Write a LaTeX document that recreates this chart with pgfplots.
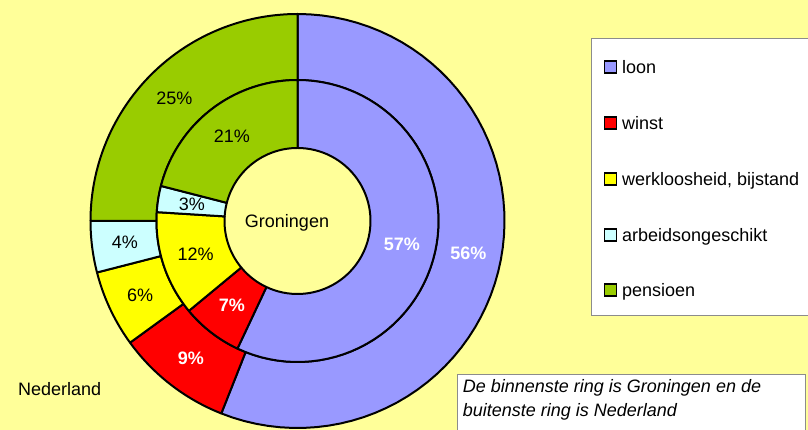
\documentclass[border=0pt]{standalone}
\usepackage{pgfplots}
\usepackage{pgfplotstable}
\pgfplotsset{compat=1.18}
\usepackage{fontspec}
\setmainfont{Liberation Sans}

\definecolor{bg}{HTML}{FFFF99}
\definecolor{c0}{HTML}{9999FF}
\definecolor{c1}{HTML}{FF0000}
\definecolor{c2}{HTML}{FFFF00}
\definecolor{c3}{HTML}{CCFFFF}
\definecolor{c4}{HTML}{99CC00}
\definecolor{boxgray}{HTML}{8C8C8C}

% share of each income source (percent): Nederland (outer ring), Groningen (inner ring)
\pgfplotstableread{
cat       ned gro
loon      56  57
winst     9   7
werkloos  6   12
arbeid    4   3
pensioen  25  21
}\datatable

\newcommand\cx{297.5}
\newcommand\cy{209}
% #1 start angle, #2 end angle, #3 inner radius, #4 outer radius, #5 colour
\newcommand\sectorplot[5]{%
  \addplot[fill=#5, draw=black, line width=2pt, line join=round,
    domain=0:4, samples=241, variable=\t, forget plot,
    declare function={
      secang(\s)=(\s<1)*((#1)+((#2)-(#1))*\s) + (\s>=1)*(\s<2)*(#2)
             + (\s>=2)*(\s<3)*((#2)+((#1)-(#2))*(\s-2)) + (\s>=3)*(#1);
      secrad(\s)=(\s<1)*(#4) + (\s>=1)*(\s<2)*((#4)+((#3)-(#4))*(\s-1))
             + (\s>=2)*(\s<3)*(#3) + (\s>=3)*((#3)+((#4)-(#3))*(\s-3));
    }]
  ({\cx+secrad(\t)*cos(secang(\t))},{\cy+secrad(\t)*sin(secang(\t))});
}

\tikzset{
  lbl0/.style={text=white, font=\fontsize{18}{21}\selectfont\bfseries},
  lbl1/.style={text=white, font=\fontsize{18}{21}\selectfont\bfseries},
  lbl2/.style={text=black, font=\fontsize{18}{21}\selectfont},
  lbl3/.style={text=black, font=\fontsize{18}{21}\selectfont},
  lbl4/.style={text=black, font=\fontsize{18}{21}\selectfont},
}

\begin{document}
\begin{tikzpicture}
\begin{axis}[
  x=1pt, y=1pt,
  xmin=0, xmax=808, ymin=0, ymax=430,
  hide axis, scale only axis,
  clip=true,
]
\coordinate (bl) at (rel axis cs:0,0);
\coordinate (tr) at (rel axis cs:1,1);
\fill[bg] (rel axis cs:0,0) rectangle (rel axis cs:1,1);

% outer ring: Nederland
\pgfmathsetmacro\startO{90}
\pgfplotsforeachungrouped \i in {0,...,4}{%
  \pgfplotstablegetelem{\i}{ned}\of\datatable
  \let\vO\pgfplotsretval
  \pgfmathsetmacro\endO{\startO-3.6*\vO}%
  \pgfmathsetmacro\midO{(\startO+\endO)/2}%
  \pgfmathsetmacro\lx{\cx+174*cos(\midO)}%
  \pgfmathsetmacro\ly{\cy+174*sin(\midO)}%
  \edef\tmp{\noexpand\sectorplot{\startO}{\endO}{141}{207}{c\i}}\tmp
  \edef\tmp{\noexpand\node[lbl\i, inner sep=0pt] at (axis cs:\lx,\ly) {\vO\noexpand\%};}\tmp
  \global\let\startO\endO
}

% inner ring: Groningen
\pgfmathsetmacro\startI{90}
\pgfplotsforeachungrouped \i in {0,...,4}{%
  \pgfplotstablegetelem{\i}{gro}\of\datatable
  \let\vI\pgfplotsretval
  \pgfmathsetmacro\endI{\startI-3.6*\vI}%
  \pgfmathsetmacro\midI{(\startI+\endI)/2}%
  \pgfmathsetmacro\lx{\cx+107*cos(\midI)}%
  \pgfmathsetmacro\ly{\cy+107*sin(\midI)}%
  \edef\tmp{\noexpand\sectorplot{\startI}{\endI}{73}{141}{c\i}}\tmp
  \edef\tmp{\noexpand\node[lbl\i, inner sep=0pt] at (axis cs:\lx,\ly) {\vI\noexpand\%};}\tmp
  \global\let\startI\endI
}

\node[anchor=base, inner sep=0pt, font=\fontsize{18}{21}\selectfont] at (axis cs:287,202) {Groningen};
\node[anchor=base west, inner sep=0pt, font=\fontsize{18}{21}\selectfont] at (axis cs:18,34) {Nederland};

% legend
\draw[boxgray, fill=white, line width=1pt] (axis cs:591,391) rectangle (axis cs:815,114);
\draw[black, fill=c0, line width=1.8pt] (axis cs:604.5,357) rectangle (axis cs:616.5,369);
\draw[black, fill=c1, line width=1.8pt] (axis cs:604.5,301) rectangle (axis cs:616.5,313);
\draw[black, fill=c2, line width=1.8pt] (axis cs:604.5,245) rectangle (axis cs:616.5,257);
\draw[black, fill=c3, line width=1.8pt] (axis cs:604.5,189) rectangle (axis cs:616.5,201);
\draw[black, fill=c4, line width=1.8pt] (axis cs:604.5,134) rectangle (axis cs:616.5,146);
\node[anchor=base west, inner sep=0pt, font=\fontsize{18}{21}\selectfont] at (axis cs:622,356.6) {loon};
\node[anchor=base west, inner sep=0pt, font=\fontsize{18}{21}\selectfont] at (axis cs:622,300.6) {winst};
\node[anchor=base west, inner sep=0pt, font=\fontsize{18}{21}\selectfont] at (axis cs:622,244.6) {werkloosheid, bijstand};
\node[anchor=base west, inner sep=0pt, font=\fontsize{18}{21}\selectfont] at (axis cs:622,188.6) {arbeidsongeschikt};
\node[anchor=base west, inner sep=0pt, font=\fontsize{18}{21}\selectfont] at (axis cs:622,133.6) {pensioen};

% text box
\draw[boxgray, fill=white, line width=1pt] (axis cs:457,55) rectangle (axis cs:805,-10);
\node[anchor=base west, inner sep=0pt, font=\fontsize{18}{21}\selectfont\itshape] at (axis cs:462.7,37.3) {De binnenste ring is Groningen en de};
\node[anchor=base west, inner sep=0pt, font=\fontsize{18}{21}\selectfont\itshape] at (axis cs:462.7,13.3) {buitenste ring is Nederland};
\end{axis}
\pgfresetboundingbox
\path[use as bounding box] (bl) rectangle (tr);
\end{tikzpicture}
\end{document}
